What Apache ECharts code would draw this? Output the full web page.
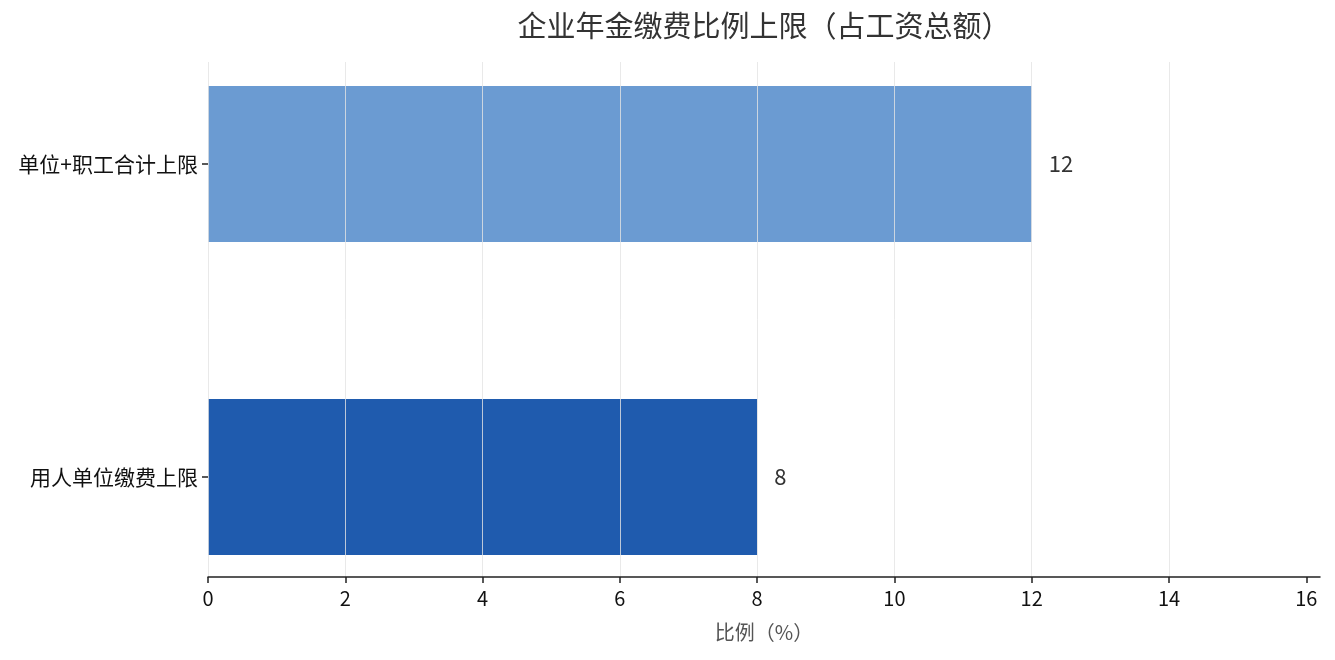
<!DOCTYPE html>
<html><head><meta charset="utf-8">
<script src="https://cdn.jsdelivr.net/npm/echarts@6/dist/echarts.min.js"></script>
<style>html,body{margin:0;padding:0;background:#fff}#c{width:1335px;height:660px}</style>
</head><body><div id="c"></div>
<script>
var categories = ['用人单位缴费上限', '单位+职工合计上限'];
var values = [8, 12];
var barColors = ['#1f5bae', '#6b9bd2'];
var xTicks = [0, 2, 4, 6, 8, 10, 12, 14, 16];
var titleText = '企业年金缴费比例上限（占工资总额）';
var xName = '比例（%）';
var FONT = '"Noto Sans CJK SC", "Noto Sans", sans-serif';

var chart = echarts.init(document.getElementById('c'));
chart.setOption({
  animation: false,
  title: {text: titleText, left: 759, textAlign: 'center', top: 6,
    textStyle: {fontFamily: FONT, fontSize: 29, fontWeight: 'normal', color: '#333'}},
  grid: [
    {left: 208, right: 15, top: 62, bottom: 83},
    {left: 208, right: 15, top: 7.5, bottom: 26.5}
  ],
  xAxis: [
    {gridIndex: 0, type: 'value', min: 0, max: 16.2, interval: 2, z: 10,
     name: xName, nameLocation: 'middle', nameGap: 45,
     nameTextStyle: {fontFamily: FONT, fontSize: 20, color: '#555'},
     axisLine: {show: true, onZero: false, lineStyle: {color: '#222', width: 1.5}},
     axisTick: {show: true, length: 6, customValues: xTicks, lineStyle: {color: '#222', width: 1.5}},
     axisLabel: {fontFamily: FONT, fontSize: 20, color: '#111', margin: 11, showMaxLabel: false,
       formatter: function (v) { return xTicks.indexOf(v) >= 0 ? String(v) : ''; }},
     splitLine: {show: true, showMaxLine: false, lineStyle: {color: 'rgba(228,228,228,0.8)', width: 1}}},
    {gridIndex: 1, type: 'value', min: 0, max: 16.2, show: false}
  ],
  yAxis: [
    {gridIndex: 0, type: 'value', min: -0.325, max: 1.325, show: false},
    {gridIndex: 1, type: 'category', data: categories,
     axisLine: {show: false},
     axisTick: {show: true, alignWithLabel: true, length: 6, lineStyle: {color: '#222', width: 1.5}},
     axisLabel: {fontFamily: FONT, fontSize: 21, color: '#111', margin: 10},
     splitLine: {show: false}}
  ],
  series: [{
    type: 'bar', xAxisIndex: 1, yAxisIndex: 1, barWidth: 156, z: 2,
    data: values.map(function (v, i) { return {value: v, itemStyle: {color: barColors[i]}}; }),
    label: {show: true, position: 'right', distance: 17, fontFamily: FONT, fontSize: 22, color: '#333'}
  }]
});
</script></body></html>
